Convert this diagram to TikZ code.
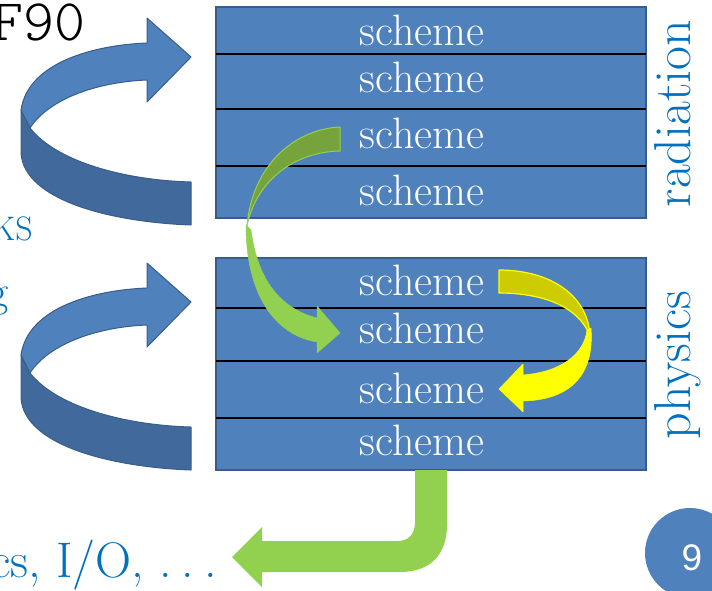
\documentclass[tikz,border=0pt]{standalone}
\usepackage{fontspec}
\newfontfamily\numfnt{Liberation Sans}
\newfontfamily\lightmono[Extension=.otf]{lmmonolt10-regular}
\definecolor{blueFill}{HTML}{4F81BD}
\definecolor{blueEdge}{HTML}{385D8A}
\definecolor{blueSide}{HTML}{41699B}
\definecolor{textBlue}{HTML}{0070C0}
\definecolor{greenLight}{HTML}{92D050}
\definecolor{greenDark}{HTML}{77A33C}
\definecolor{yellowBright}{HTML}{FFFF00}
\definecolor{yellowDark}{HTML}{CCCC00}
\tikzset{
  stackbox/.style={draw=blueEdge, line width=1.2pt, fill=blueFill, inner sep=0pt, outer sep=0pt},
  sepline/.style={black, line width=2.8pt},
  schemetxt/.style={text=white, anchor=base, inner sep=0pt, font=\fontsize{44}{52}\selectfont},
  sidetxt/.style={text=textBlue, anchor=base, rotate=90, inner sep=0pt, font=\fontsize{52}{60}\selectfont},
  lefttxt/.style={text=textBlue, anchor=base east, inner sep=0pt},
  ribbonTop/.style={fill=blueFill, draw=blueEdge, line width=1pt, line join=round},
  ribbonSide/.style={fill=blueSide, draw=blueEdge, line width=1pt, line join=round},
}
\begin{document}
\begin{tikzpicture}[x=1pt,y=-1pt]
\useasboundingbox (0,0) rectangle (712,590);
\clip (0,0) rectangle (712,590);

% left clipped texts
\node[anchor=base east, inner sep=0pt, font=\lightmono\fontsize{59}{66}\selectfont] (f90) at (86,40) {F90};
\node[lefttxt, font=\fontsize{34}{40}\selectfont] (ks) at (33,240) {KS};
\node[lefttxt, font=\fontsize{44}{50}\selectfont] (gg) at (9,306) {g};
\node[lefttxt, font=\fontsize{50}{58}\selectfont] (io) at (217,577) {cs, I/O, .\hspace{0.2em}.\hspace{0.2em}.};

% stacks
\node[stackbox, minimum width=430pt, minimum height=211pt] (radstack) at (431,112.5) {};
\node[stackbox, minimum width=430pt, minimum height=212pt] (phystack) at (431,364) {};
\foreach \yy in {54,109,166,308,361,418}
  \draw[sepline] (216,\yy) -- (646,\yy);

\node[schemetxt] (s1) at (422,45) {scheme};
\node[schemetxt] (s2) at (422,92) {scheme};
\node[schemetxt] (s3) at (422,148) {scheme};
\node[schemetxt] (s4) at (422,205) {scheme};
\node[schemetxt] (s5) at (422,295) {scheme};
\node[schemetxt] (s6) at (422,343) {scheme};
\node[schemetxt] (s7) at (422,403) {scheme};
\node[schemetxt] (s8) at (422,455) {scheme};

\node[sidetxt] (rad) at (690,113.5) {radiation};
\node[sidetxt] (phy) at (690,365) {physics};

% blue ribbon arrows
\foreach \dy in {0,245}{
\begin{scope}[shift={(0,\dy)}]
  \path[ribbonSide] (21,110) -- (30,128) .. controls (55,160) and (120,180) .. (191,182)
     -- (191,225) .. controls (110,222) and (24,200) .. (21,153) -- cycle;
  \path[ribbonTop] (21,110) .. controls (28,62) and (95,45) .. (147,43) -- (147,18) -- (191,57)
     -- (147,102) -- (147,80) .. controls (95,82) and (48,100) .. (30,128) -- cycle;
\end{scope}
}

% green twisted arrow
\path[fill=greenDark, draw=greenLight, line width=1pt, line join=round]
  (340,127) .. controls (295,129) and (252,165) .. (247,226)
  .. controls (255,185) and (290,152) .. (340,151) -- cycle;
\path[fill=greenLight, draw=greenLight, line width=0.5pt, line join=round]
  (246,225) .. controls (246,295) and (275,335) .. (317,342) -- (317,353) -- (340,333)
  -- (317,306) -- (317,318) .. controls (285,310) and (258,285) .. (251,230) -- cycle;

% yellow twisted arrow
\path[fill=yellowDark, draw=yellowBright, line width=1.2pt, line join=round]
  (499,270) .. controls (550,270) and (588,295) .. (590,336)
  .. controls (578,305) and (540,293) .. (499,293) -- cycle;
\path[fill=yellowBright, draw=yellowBright, line width=0.5pt, line join=round]
  (591,328) .. controls (595,380) and (565,400) .. (523,401) -- (523,412) -- (499,389)
  -- (523,364) -- (523,375) .. controls (560,372) and (584,355) .. (587,330) -- cycle;

% bottom elbow arrow
\path[fill=greenLight]
  (415,470) -- (415,522) .. controls (415,535) and (408,541) .. (397,541) -- (262,541)
  -- (262,527) -- (232,557) -- (262,587) -- (262,572) -- (400,572)
  .. controls (430,572) and (447,555) .. (447,525) -- (447,470) -- cycle;

% page number
\node[circle, fill=blueFill, minimum size=90pt, inner sep=0pt] (pg) at (690,553) {};
\node[text=white, inner sep=0pt, font=\numfnt\fontsize{37}{40}\selectfont] (pgnum) at (692,558) {9};
\end{tikzpicture}
\end{document}
